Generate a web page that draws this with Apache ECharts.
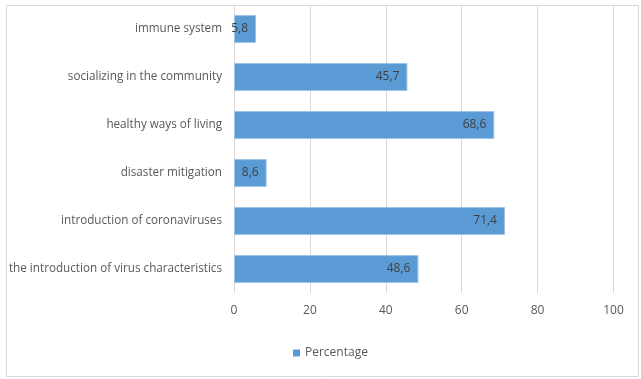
<!DOCTYPE html>
<html>
<head>
<meta charset="utf-8">
<script src="https://cdn.jsdelivr.net/npm/echarts@6/dist/echarts.min.js"></script>
<style>
  html, body { margin: 0; padding: 0; background: #fff; }
  #chart { width: 641px; height: 379px; }
</style>
</head>
<body>
<div id="chart"></div>
<script>
// Topics, listed top to bottom
const topics = [
  'immune system',
  'socializing in the community',
  'healthy ways of living',
  'disaster mitigation',
  'introduction of coronaviruses',
  'the introduction of virus characteristics'
];
const percentage = [5.8, 45.7, 68.6, 8.6, 71.4, 48.6];
const seriesName = 'Percentage';

const font = '"Open Sans", "Noto Sans", sans-serif';
const chart = echarts.init(document.getElementById('chart'), null, { renderer: 'canvas' });

chart.setOption({
  animation: false,
  textStyle: { fontFamily: font },
  graphic: [{
    type: 'rect',
    shape: { x: 6.5, y: 5.5, width: 632, height: 371 },
    style: { fill: 'none', stroke: '#d9d9d9', lineWidth: 1 },
    silent: true,
    z: -1
  }],
  grid: { left: 234, right: 27.5, top: 5, bottom: 86, containLabel: false },
  legend: {
    data: [seriesName],
    bottom: 15,
    left: 288,
    icon: 'rect',
    itemWidth: 7,
    itemHeight: 7,
    itemGap: 5,
    itemStyle: { borderWidth: 0 },
    textStyle: { color: '#595959', fontSize: 12, fontFamily: font }
  },
  xAxis: {
    type: 'value',
    min: 0,
    max: 100,
    interval: 20,
    axisLine: { show: false },
    axisTick: { show: false },
    splitLine: { lineStyle: { color: '#d9d9d9', width: 1 } },
    axisLabel: { color: '#595959', fontSize: 12, margin: 12, fontFamily: font }
  },
  yAxis: {
    type: 'category',
    data: topics,
    inverse: true,
    axisLine: { show: false },
    axisTick: { show: false },
    axisLabel: { color: '#595959', fontSize: 11.7, margin: 12, fontFamily: font }
  },
  series: [{
    name: seriesName,
    type: 'bar',
    data: percentage,
    barCategoryGap: '42%',
    itemStyle: { color: '#5b9bd5', borderColor: '#9dc3e6', borderWidth: 1 },
    label: {
      show: true,
      position: 'insideRight',
      distance: 8,
      color: '#404040',
      fontSize: 12,
      fontFamily: font,
      formatter: p => String(p.value).replace('.', ',')
    }
  }]
});
</script>
</body>
</html>
